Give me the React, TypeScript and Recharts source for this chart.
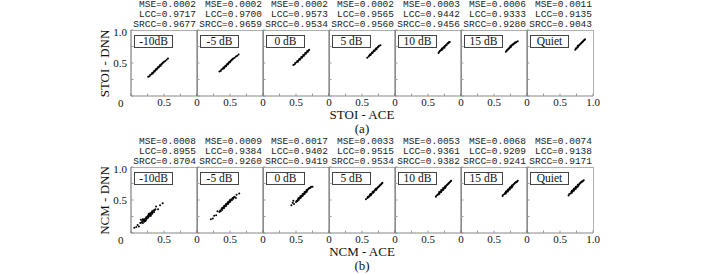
import React from 'react';
import { ScatterChart, Scatter, XAxis, YAxis } from 'recharts';

type Pt = [number, number];

const conditions = ['-10dB', '-5 dB', '0 dB', '5 dB', '10 dB', '15 dB', 'Quiet'];

const stoiMse = ['0.0002', '0.0002', '0.0002', '0.0002', '0.0003', '0.0006', '0.0011'];
const stoiLcc = ['0.9717', '0.9700', '0.9573', '0.9565', '0.9442', '0.9333', '0.9135'];
const stoiSrcc = ['0.9677', '0.9659', '0.9534', '0.9560', '0.9456', '0.9280', '0.9043'];

const ncmMse = ['0.0008', '0.0009', '0.0017', '0.0033', '0.0053', '0.0068', '0.0074'];
const ncmLcc = ['0.8955', '0.9384', '0.9402', '0.9515', '0.9361', '0.9209', '0.9138'];
const ncmSrcc = ['0.8704', '0.9260', '0.9419', '0.9534', '0.9382', '0.9241', '0.9171'];

// STOI: ACE (x) vs DNN (y)
const stoiM10: Pt[] = [[0.26,0.29],[0.28,0.30],[0.29,0.32],[0.31,0.33],[0.32,0.35],[0.33,0.34],[0.34,0.36],[0.35,0.38],[0.36,0.37],[0.37,0.39],[0.38,0.41],[0.39,0.40],[0.40,0.42],[0.41,0.44],[0.42,0.43],[0.43,0.45],[0.44,0.47],[0.45,0.46],[0.46,0.48],[0.47,0.49],[0.48,0.50],[0.49,0.51],[0.50,0.52],[0.52,0.53],[0.54,0.55],[0.56,0.57]];
const stoiM5: Pt[] = [[0.34,0.37],[0.36,0.38],[0.37,0.40],[0.39,0.41],[0.40,0.43],[0.41,0.42],[0.42,0.44],[0.43,0.46],[0.44,0.45],[0.45,0.47],[0.46,0.49],[0.47,0.48],[0.48,0.50],[0.49,0.52],[0.50,0.51],[0.51,0.53],[0.52,0.54],[0.53,0.55],[0.54,0.56],[0.55,0.57],[0.57,0.58],[0.59,0.60],[0.61,0.61],[0.63,0.63]];
const stoi0: Pt[] = [[0.46,0.47],[0.48,0.48],[0.49,0.50],[0.51,0.51],[0.52,0.53],[0.53,0.52],[0.54,0.54],[0.55,0.56],[0.56,0.55],[0.57,0.57],[0.58,0.59],[0.59,0.58],[0.60,0.60],[0.61,0.62],[0.62,0.61],[0.63,0.63],[0.64,0.65],[0.65,0.64],[0.66,0.66],[0.67,0.68],[0.68,0.67],[0.69,0.69],[0.70,0.70]];
const stoi5: Pt[] = [[0.58,0.58],[0.60,0.60],[0.61,0.61],[0.62,0.63],[0.63,0.62],[0.64,0.64],[0.65,0.66],[0.66,0.65],[0.67,0.67],[0.68,0.69],[0.69,0.68],[0.70,0.70],[0.71,0.72],[0.72,0.71],[0.73,0.73],[0.74,0.74],[0.75,0.75],[0.76,0.76],[0.78,0.77]];
const stoi10: Pt[] = [[0.66,0.65],[0.67,0.67],[0.68,0.68],[0.69,0.69],[0.70,0.70],[0.71,0.70],[0.71,0.72],[0.72,0.71],[0.73,0.73],[0.74,0.74],[0.75,0.75],[0.75,0.73],[0.76,0.76],[0.77,0.77],[0.78,0.77],[0.79,0.79],[0.80,0.80],[0.81,0.80],[0.82,0.82],[0.83,0.82]];
const stoi15: Pt[] = [[0.68,0.67],[0.69,0.68],[0.70,0.70],[0.71,0.70],[0.72,0.72],[0.73,0.72],[0.74,0.74],[0.75,0.74],[0.75,0.76],[0.76,0.75],[0.77,0.77],[0.78,0.78],[0.79,0.78],[0.80,0.79],[0.81,0.80],[0.82,0.81],[0.83,0.81],[0.84,0.82],[0.86,0.83]];
const stoiQuiet: Pt[] = [[0.73,0.70],[0.74,0.72],[0.75,0.72],[0.76,0.74],[0.77,0.74],[0.77,0.76],[0.78,0.76],[0.79,0.77],[0.80,0.78],[0.81,0.79],[0.82,0.80],[0.83,0.81],[0.84,0.82],[0.85,0.83],[0.86,0.84],[0.87,0.85],[0.88,0.86]];

// NCM: ACE (x) vs DNN (y)
const ncmM10: Pt[] = [[0.05,0.08],[0.08,0.09],[0.10,0.12],[0.12,0.10],[0.44,0.42],[0.48,0.45],[0.41,0.36],[0.38,0.40],[0.15,0.20],[0.14,0.15],[0.16,0.16],[0.17,0.18],[0.18,0.15],[0.19,0.19],[0.20,0.17],[0.20,0.21],[0.21,0.19],[0.22,0.22],[0.23,0.20],[0.23,0.24],[0.24,0.22],[0.25,0.25],[0.26,0.23],[0.26,0.27],[0.27,0.25],[0.28,0.28],[0.29,0.26],[0.29,0.30],[0.30,0.28],[0.31,0.31],[0.32,0.29],[0.32,0.33],[0.33,0.31],[0.34,0.34],[0.35,0.32],[0.36,0.35],[0.37,0.36],[0.18,0.21],[0.22,0.18],[0.27,0.29],[0.30,0.26]];
const ncmM5: Pt[] = [[0.21,0.21],[0.24,0.22],[0.26,0.26],[0.29,0.27],[0.60,0.58],[0.64,0.60],[0.59,0.53],[0.31,0.33],[0.34,0.32],[0.35,0.34],[0.36,0.33],[0.37,0.36],[0.38,0.35],[0.38,0.38],[0.39,0.37],[0.40,0.39],[0.41,0.38],[0.41,0.41],[0.42,0.40],[0.43,0.42],[0.44,0.41],[0.44,0.44],[0.45,0.43],[0.46,0.45],[0.47,0.44],[0.47,0.47],[0.48,0.46],[0.49,0.48],[0.50,0.47],[0.50,0.50],[0.51,0.49],[0.52,0.51],[0.53,0.50],[0.54,0.53],[0.55,0.52],[0.56,0.54],[0.57,0.55]];
const ncm0: Pt[] = [[0.43,0.42],[0.45,0.46],[0.47,0.44],[0.46,0.49],[0.50,0.47],[0.51,0.49],[0.52,0.48],[0.53,0.51],[0.54,0.50],[0.54,0.53],[0.55,0.52],[0.56,0.54],[0.57,0.53],[0.57,0.56],[0.58,0.55],[0.59,0.57],[0.60,0.56],[0.60,0.59],[0.61,0.58],[0.62,0.60],[0.63,0.59],[0.63,0.62],[0.64,0.61],[0.65,0.63],[0.66,0.62],[0.66,0.65],[0.67,0.64],[0.68,0.66],[0.69,0.67],[0.70,0.68],[0.71,0.68],[0.72,0.69],[0.73,0.70],[0.75,0.70]];
const ncm5: Pt[] = [[0.56,0.51],[0.58,0.53],[0.59,0.55],[0.60,0.54],[0.61,0.56],[0.62,0.58],[0.63,0.57],[0.63,0.59],[0.64,0.58],[0.65,0.60],[0.66,0.62],[0.67,0.61],[0.67,0.63],[0.68,0.62],[0.69,0.64],[0.70,0.66],[0.71,0.65],[0.71,0.67],[0.72,0.66],[0.73,0.68],[0.74,0.69],[0.75,0.70],[0.76,0.71],[0.77,0.72],[0.78,0.73],[0.79,0.74],[0.80,0.75],[0.81,0.76]];
const ncm10: Pt[] = [[0.62,0.55],[0.63,0.57],[0.65,0.58],[0.66,0.60],[0.67,0.59],[0.67,0.62],[0.68,0.61],[0.69,0.63],[0.70,0.62],[0.70,0.65],[0.71,0.64],[0.72,0.66],[0.73,0.65],[0.73,0.68],[0.74,0.67],[0.75,0.69],[0.76,0.68],[0.76,0.71],[0.77,0.70],[0.78,0.72],[0.79,0.73],[0.80,0.74],[0.81,0.75],[0.82,0.76],[0.83,0.77],[0.84,0.78],[0.85,0.79]];
const ncm15: Pt[] = [[0.63,0.56],[0.64,0.58],[0.66,0.59],[0.67,0.61],[0.68,0.60],[0.68,0.63],[0.69,0.62],[0.70,0.64],[0.71,0.63],[0.71,0.66],[0.72,0.65],[0.73,0.67],[0.74,0.66],[0.74,0.69],[0.75,0.68],[0.76,0.70],[0.77,0.69],[0.77,0.72],[0.78,0.71],[0.79,0.73],[0.80,0.74],[0.81,0.75],[0.82,0.76],[0.83,0.77],[0.84,0.77],[0.85,0.78],[0.86,0.79]];
const ncmQuiet: Pt[] = [[0.63,0.57],[0.64,0.59],[0.66,0.60],[0.67,0.62],[0.68,0.61],[0.68,0.64],[0.69,0.63],[0.70,0.65],[0.71,0.64],[0.71,0.67],[0.72,0.66],[0.73,0.68],[0.74,0.67],[0.74,0.70],[0.75,0.69],[0.76,0.71],[0.77,0.70],[0.77,0.73],[0.78,0.72],[0.79,0.74],[0.80,0.75],[0.81,0.76],[0.82,0.77],[0.83,0.78],[0.84,0.78],[0.85,0.79],[0.86,0.80]];

const stoiClouds = [stoiM10, stoiM5, stoi0, stoi5, stoi10, stoi15, stoiQuiet];
const ncmClouds = [ncmM10, ncmM5, ncm0, ncm5, ncm10, ncm15, ncmQuiet];

const gridTicks = [0, 0.25, 0.5, 0.75, 1];

const PANEL = 66;
const LEFT0 = 131;
const YW = 30; // y axis width (left of plot)
const MR = 14;
const MT = 10;
const XH = 20;
const SERIF = '"Liberation Serif", "Times New Roman", serif';
const MONO = '"Liberation Mono", "Courier New", monospace';

const fmt = (v: number) => (v === 0 ? '0' : v.toFixed(1));

const Dot = (p: any) => <circle cx={p.cx} cy={p.cy} r={1} fill="#000" />;

function Panel({ idx, top, points }: { idx: number; top: number; points: Pt[] }) {
  const xLabels = idx === 0 ? [0.5] : idx === 6 ? [0, 0.5, 1] : [0, 0.5];
  const data = points.map(([x, y]) => ({ x, y }));

  const XTick = (p: any) => {
    const v = p.payload.value;
    if (!xLabels.includes(v)) return <g />;
    return (
      <text x={p.x} y={p.y} dy="0.71em" textAnchor="middle" fontSize={11} fontFamily={SERIF} fill="#111">
        {fmt(v)}
      </text>
    );
  };

  const YTick = (p: any) => {
    const v = p.payload.value;
    if (idx !== 0 || v === 0.25 || v === 0.75) return <g />;
    const zero = v === 0;
    return (
      <text
        x={p.x - (zero ? 3.5 : 0)}
        y={p.y + (zero ? 6.5 : v === 1 ? 1.5 : 0)}
        textAnchor="end"
        dominantBaseline="central"
        fontSize={11}
        fontFamily={SERIF}
        fill="#111"
      >
        {fmt(v)}
      </text>
    );
  };

  const left = LEFT0 + idx * PANEL;
  return (
    <>
      <div
        style={{
          position: 'absolute',
          left: left,
          top: top - 0.5,
          width: PANEL + 0.5,
          height: PANEL,
          boxSizing: 'border-box',
          borderTop: '1px solid #b0b0b0',
          borderRight: '1px solid #b0b0b0',
        }}
      />
      <div style={{ position: 'absolute', left: left - YW, top: top - MT }}>
        <ScatterChart width={YW + PANEL + MR} height={MT + PANEL + XH} margin={{ top: MT, right: MR, bottom: 0, left: 0 }}>
          <XAxis
            dataKey="x"
            type="number"
            domain={[0, 1]}
            ticks={gridTicks}
            interval={0}
            tick={XTick}
            tickSize={-2.5}
            tickMargin={4.5}
            tickLine={{ stroke: '#999' }}
            axisLine={{ stroke: '#888' }}
            height={XH}
            allowDataOverflow
          />
          <YAxis
            dataKey="y"
            type="number"
            domain={[0, 1]}
            ticks={gridTicks}
            interval={0}
            tick={YTick}
            tickSize={-2.5}
            tickMargin={6.5}
            tickLine={{ stroke: '#999' }}
            axisLine={{ stroke: '#666' }}
            width={YW}
            allowDataOverflow
          />
          <Scatter data={data} shape={Dot} isAnimationActive={false} />
        </ScatterChart>
      </div>
    </>
  );
}

function Row({ top, clouds, mse, lcc, srcc }: { top: number; clouds: Pt[][]; mse: string[]; lcc: string[]; srcc: string[] }) {
  return (
    <>
      {clouds.map((pts, i) => (
        <Panel key={'p' + i} idx={i} top={top} points={pts} />
      ))}
      {conditions.map((c, i) => (
        <div
          key={'s' + i}
          style={{
            position: 'absolute',
            left: LEFT0 + i * PANEL - 30,
            width: PANEL + 29,
            top: top - 30.5,
            textAlign: 'right',
            fontFamily: MONO,
            fontSize: 9.5,
            lineHeight: '10px',
            color: '#222',
            whiteSpace: 'pre',
          }}
        >
          {`MSE=${mse[i]}\nLCC=${lcc[i]}\nSRCC=${srcc[i]}`}
        </div>
      ))}
      {conditions.map((c, i) => (
        <div
          key={'b' + i}
          style={{
            position: 'absolute',
            left: LEFT0 + i * PANEL + 3,
            top: top + 5,
            width: 39,
            height: 13,
            boxSizing: 'border-box',
            border: '1px solid #444',
            background: '#fff',
            fontFamily: SERIF,
            fontSize: 11.5,
            lineHeight: '11px',
            textAlign: 'center',
            color: '#111',
          }}
        >
          {c}
        </div>
      ))}
    </>
  );
}

const titleStyle: React.CSSProperties = {
  position: 'absolute',
  width: 200,
  textAlign: 'center',
  fontFamily: SERIF,
  fontSize: 13,
  lineHeight: '13px',
  color: '#111',
};

const vTitle = (cy: number): React.CSSProperties => ({
  ...titleStyle,
  width: 100,
  left: 104 - 50,
  top: cy - 6.5,
  transform: 'rotate(-90deg)',
});

export default function App() {
  const center = LEFT0 + (7 * PANEL) / 2;
  return (
    <div style={{ position: 'absolute', left: 0, top: 0, width: 713, height: 275, background: '#fff', overflow: 'hidden' }}>
      <Row top={30} clouds={stoiClouds} mse={stoiMse} lcc={stoiLcc} srcc={stoiSrcc} />
      <Row top={167} clouds={ncmClouds} mse={ncmMse} lcc={ncmLcc} srcc={ncmSrcc} />
      <div style={{ ...titleStyle, left: center - 100, top: 107.5 }}>STOI - ACE</div>
      <div style={{ ...titleStyle, left: center - 100, top: 121.5 }}>(a)</div>
      <div style={{ ...titleStyle, left: center - 100, top: 245 }}>NCM - ACE</div>
      <div style={{ ...titleStyle, left: center - 100, top: 259 }}>(b)</div>
      <div style={vTitle(63)}>STOI - DNN</div>
      <div style={vTitle(200)}>NCM - DNN</div>
    </div>
  );
}
